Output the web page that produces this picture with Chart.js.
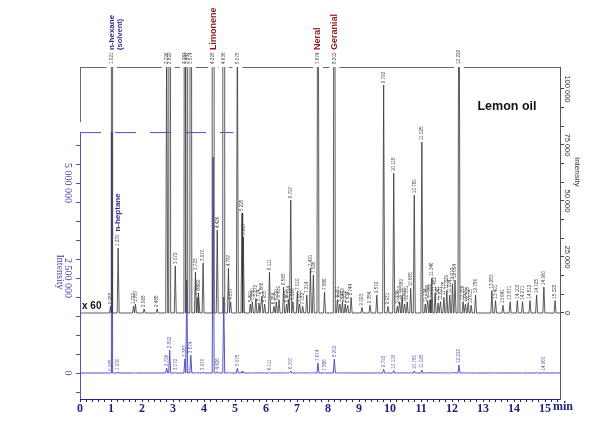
<!DOCTYPE html>
<html>
<head>
<meta charset="utf-8">
<script src="https://cdn.jsdelivr.net/npm/chart.js@4.4.1/dist/chart.umd.min.js"></script>
<style>
html,body{margin:0;padding:0;background:#fff;}
#wrap{width:600px;height:423px;position:relative;}
</style>
</head>
<body>
<div id="wrap"><canvas id="c"></canvas></div>
<script>
// ---------------- DATA ----------------
// retention times (min) of the peaks
const peakTimes = [
 0.985,1.021,1.230,1.727,1.787,2.068,2.488,2.796,2.892,3.072,
 3.383,3.442,3.574,3.723,3.781,3.832,3.970,4.295,4.426,4.636,
 4.787,4.857,5.075,5.225,5.267,5.491,5.560,5.672,5.774,5.866,
 5.955,6.111,6.254,6.331,6.419,6.565,6.662,6.724,6.797,6.866,
 7.010,7.083,7.182,7.314,7.431,7.526,7.674,7.886,8.202,8.301,
 8.382,8.463,8.552,8.634,8.744,9.093,9.354,9.572,9.793,9.931,
 10.118,10.236,10.310,10.389,10.470,10.551,10.665,10.780,11.025,11.134,
 11.215,11.289,11.346,11.452,11.548,11.627,11.735,11.829,11.924,12.013,
 12.094,12.222,12.356,12.431,12.518,12.615,12.756,13.283,13.401,13.641,
 13.871,14.103,14.271,14.512,14.725,14.960,15.322
];
// peak apex intensities (same units for both traces)
const peakHeights = [
 3000,16000000,29000,3000,4000,1800,1800,130000,600000,21000,
 370000,2450000,470000,18300,7000,9000,22300,5680000,37000,2000000,
 20000,5000,130000,44600,34000,4000,5000,6500,4500,7500,
 4000,18300,3000,5000,6000,11600,4000,6000,50400,5000,
 9400,4000,3000,8000,20000,17000,263000,9400,368000,6000,
 4000,5000,4000,3500,7000,2500,3500,8000,101700,3000,
 62400,3000,5000,8000,4000,5000,11000,52600,76300,4000,
 5500,6000,15600,9000,4500,5000,7000,10000,8000,13000,
 14700,210000,5000,4000,4500,3500,8000,10000,5500,3500,
 5000,5500,5000,5500,8000,11600,5500
];
// peaks annotated on the lower (blue, x1) trace
const blueLabelTimes = [0.985,1.230,2.796,2.892,3.072,3.383,3.574,3.970,4.426,5.075,
 6.111,6.797,7.674,7.886,8.202,9.793,10.118,10.780,11.025,12.222,14.960];
// named compounds
const compoundNames = ['n-hexane','n-heptane','Limonene','Neral','Geranial'];
const compoundNotes = ['(solvent)','','','',''];
const compoundTimes = [1.021,1.230,4.295,7.674,8.202];
// axes
const xTickValues = [0,1,2,3,4,5,6,7,8,9,10,11,12,13,14,15];
const xTickLabels = ['0','1','2','3','4','5','6','7','8','9','10','11','12','13','14','15'];
const leftTickValues = [0,2500000,5000000];
const leftTickLabels = ['0','2 500 000','5 000 000'];
const rightTickValues = [0,25000,50000,75000,100000];
const rightTickLabels = ['0','25 000','50 000','75 000','100 000'];
const chartTitle = 'Lemon oil';
const magnification = 'x 60';
const xUnit = 'min';
const yTitle = 'Intensity';

// ---------------- AXIS RANGES ----------------
const X_MIN = 0, X_MAX = 15.48;
const YL_MIN = -684000, YL_MAX = 8053000, BLUE_TOP = 6340000;
const YR_MIN = -38390, YR_MAX = 109800;
const HALF_W = 0.032; // peak half base width (min)

function buildTrace(){
  const pts = [{x:X_MIN,y:0}];
  for(let i=0;i<peakTimes.length;i++){
    const t = peakTimes[i];
    let l = t-HALF_W, r = t+HALF_W;
    if(i>0){ const m=(peakTimes[i-1]+t)/2; if(m>l) l=m; }
    if(i<peakTimes.length-1){ const m=(peakTimes[i+1]+t)/2; if(m<r) r=m; }
    pts.push({x:l,y:0},{x:t,y:peakHeights[i]},{x:r,y:0});
  }
  pts.push({x:X_MAX,y:0});
  return pts;
}

const NAVY='#22227a', BLUE='#5151c6', BLUE_TXT='#3d3da6', DARK='#333333', RED='#8b1c1c', PURP='#3b2f8f';
const SANS='"Liberation Sans", Arial, sans-serif', SERIF='"Liberation Serif", "Times New Roman", serif';

function rotText(ctx,text,x,y,ang,font,color,align,base){
  ctx.save(); ctx.translate(x,y); ctx.rotate(ang);
  ctx.font=font; ctx.fillStyle=color; ctx.textAlign=align||'left'; ctx.textBaseline=base||'middle';
  ctx.fillText(text,0,0); ctx.restore();
}

const deco = {
  id:'deco',
  beforeDatasetDraw(chart,args){
    if(chart.data.datasets[args.index].label==='blue'){
      const a=chart.chartArea, yT=chart.scales.yL.getPixelForValue(BLUE_TOP);
      const c=chart.ctx; c.save(); c.beginPath(); c.rect(a.left,yT,a.right-a.left,a.bottom-yT); c.clip();
    }
  },
  afterDatasetDraw(chart,args){
    if(chart.data.datasets[args.index].label==='blue') chart.ctx.restore();
  },
  afterDraw(chart){
    const c=chart.ctx, a=chart.chartArea, X=chart.scales.x, L=chart.scales.yL, R=chart.scales.yR;
    const yBlueTop=L.getPixelForValue(BLUE_TOP);
    c.save();
    // black frame top with gaps at saturated peaks
    const gaps=[];
    peakTimes.forEach((t,i)=>{ if(peakHeights[i]>YR_MAX){ const p=X.getPixelForValue(t); gaps.push([p-5,p+5]); }});
    gaps.sort((p,q)=>p[0]-q[0]);
    const merged=[]; gaps.forEach(g=>{ if(merged.length && g[0]<=merged[merged.length-1][1]) merged[merged.length-1][1]=Math.max(merged[merged.length-1][1],g[1]); else merged.push(g.slice()); });
    c.strokeStyle='#6a6a6a'; c.lineWidth=1;
    let sx=a.left; c.beginPath();
    merged.forEach(g=>{ c.moveTo(sx,a.top+0.5); c.lineTo(g[0],a.top+0.5); sx=g[1]; });
    c.moveTo(sx,a.top+0.5); c.lineTo(a.right,a.top+0.5); c.stroke();
    // black frame left piece
    c.beginPath(); c.moveTo(a.left+0.5,a.top); c.lineTo(a.left+0.5,yBlueTop-10); c.stroke();
    // blue frame
    c.strokeStyle=BLUE; c.lineWidth=1;
    c.beginPath(); c.moveTo(a.left+0.5,yBlueTop); c.lineTo(a.left+0.5,a.bottom); c.stroke();
    c.setLineDash([21,14]);
    c.beginPath(); c.moveTo(a.left,yBlueTop+0.5); c.lineTo(X.getPixelForValue(4.95),yBlueTop+0.5); c.stroke();
    c.setLineDash([]);

    // axis tick labels (rotated)
    leftTickValues.forEach((v,i)=>rotText(c,leftTickLabels[i],a.left-12,L.getPixelForValue(v),Math.PI/2,'10px '+SERIF,BLUE_TXT,'center','middle'));
    rightTickValues.forEach((v,i)=>rotText(c,rightTickLabels[i],a.right+7,R.getPixelForValue(v),Math.PI/2,'7.5px '+SANS,'#333','center','middle'));
    rotText(c,yTitle,a.left-20,L.getPixelForValue(2500000)-6,Math.PI/2,'10px '+SERIF,BLUE_TXT,'center','middle');
    rotText(c,yTitle,a.right+17,R.getPixelForValue(63000),Math.PI/2,'8px '+SANS,'#333','center','middle');
    c.font='bold 12px '+SERIF; c.fillStyle=NAVY; c.textAlign='center'; c.textBaseline='middle';
    c.fillText(xUnit,a.right+3,a.bottom+8);

    // peak labels, black trace
    const lf='4.6px '+SANS;
    const blackLabelTop={};
    peakTimes.forEach((t,i)=>{
      const h=peakHeights[i], px=X.getPixelForValue(t);
      const y0 = h>YR_MAX ? a.top-3 : R.getPixelForValue(h)-2;
      rotText(c,t.toFixed(3),px,y0,-Math.PI/2,lf,'#444','left','middle');
      c.font=lf; blackLabelTop[t]=y0-c.measureText(t.toFixed(3)).width;
    });
    // peak labels, blue trace
    blueLabelTimes.forEach(t=>{
      const i=peakTimes.indexOf(t); if(i<0) return;
      const h=peakHeights[i]; if(h>BLUE_TOP) return;
      rotText(c,t.toFixed(3),X.getPixelForValue(t),L.getPixelForValue(h)-2,-Math.PI/2,lf,'#5a5aa8','left','middle');
    });
    // compound names
    compoundNames.forEach((n,k)=>{
      const t=compoundTimes[k], i=peakTimes.indexOf(t), px=X.getPixelForValue(t);
      const target = /^[A-Z]/.test(n);
      const col = target ? RED : PURP;
      const font = target ? 'bold 9px '+SANS : 'bold 8px '+SANS;
      const y0 = peakHeights[i]>YR_MAX ? a.top-17 : blackLabelTop[t]-3;
      rotText(c,n,px,y0,-Math.PI/2,font,col,'left','middle');
      if(compoundNotes[k]) rotText(c,compoundNotes[k],px+8,y0,-Math.PI/2,'bold 7.5px '+SANS,PURP,'left','middle');
    });
    // title & magnification
    c.font='bold 12.5px '+SANS; c.fillStyle='#111'; c.textAlign='center'; c.textBaseline='middle';
    c.fillText(chartTitle,a.right-53,a.top+40);
    c.font='bold 10px '+SANS; c.textAlign='left';
    c.fillText(magnification,a.left+2,R.getPixelForValue(0)-7);
    c.restore();
  }
};

const trace = buildTrace();
const xTicksAll=[]; for(let i=0;i*0.2<=X_MAX+1e-9;i++) xTicksAll.push(Math.round(i*2)/10);
const lTicks=[]; for(let v=-500000; v<=6000000; v+=500000) lTicks.push(v);
const rTicks=[]; for(let k=0;k<=12;k++) rTicks.push(k*25000/3);

new Chart(document.getElementById('c'),{
  type:'line',
  data:{datasets:[
    {label:'black',data:trace.map(p=>({x:p.x,y:p.y})),yAxisID:'yR',borderColor:DARK,borderWidth:0.8,pointRadius:0,tension:0},
    {label:'blue',data:trace.map(p=>({x:p.x,y:p.y})),yAxisID:'yL',borderColor:BLUE,borderWidth:1,pointRadius:0,tension:0}
  ]},
  options:{
    animation:false,responsive:true,maintainAspectRatio:false,devicePixelRatio:1,
    events:[],
    layout:{padding:{top:67,left:0,right:0,bottom:0}},
    plugins:{legend:{display:false},tooltip:{enabled:false}},
    scales:{
      x:{type:'linear',min:X_MIN,max:X_MAX,
        afterBuildTicks:s=>{s.ticks=xTicksAll.map(v=>({value:v}));},
        afterFit:s=>{s.height=24;},
        ticks:{autoSkip:false,maxRotation:0,minRotation:0,padding:0,color:NAVY,font:{family:SERIF,size:12,weight:'bold'},
          callback:v=>{const j=xTickValues.findIndex(q=>Math.abs(q-v)<1e-6); return j>=0?xTickLabels[j]:'';}},
        grid:{drawOnChartArea:false,tickLength:3,color:NAVY},
        border:{color:NAVY,width:1}},
      yL:{type:'linear',position:'left',min:YL_MIN,max:YL_MAX,
        afterBuildTicks:s=>{s.ticks=lTicks.map(v=>({value:v}));},
        afterFit:s=>{s.width=80;},
        ticks:{display:false},
        grid:{drawOnChartArea:false,tickLength:4,color:BLUE},
        border:{display:false}},
      yR:{type:'linear',position:'right',min:YR_MIN,max:YR_MAX,
        afterBuildTicks:s=>{s.ticks=rTicks.map(v=>({value:v}));},
        afterFit:s=>{s.width=40;},
        ticks:{display:false},
        grid:{drawOnChartArea:false,tickLength:4,color:'#444'},
        border:{color:'#555',width:1}}
    }
  },
  plugins:[deco]
});
</script>
</body>
</html>
